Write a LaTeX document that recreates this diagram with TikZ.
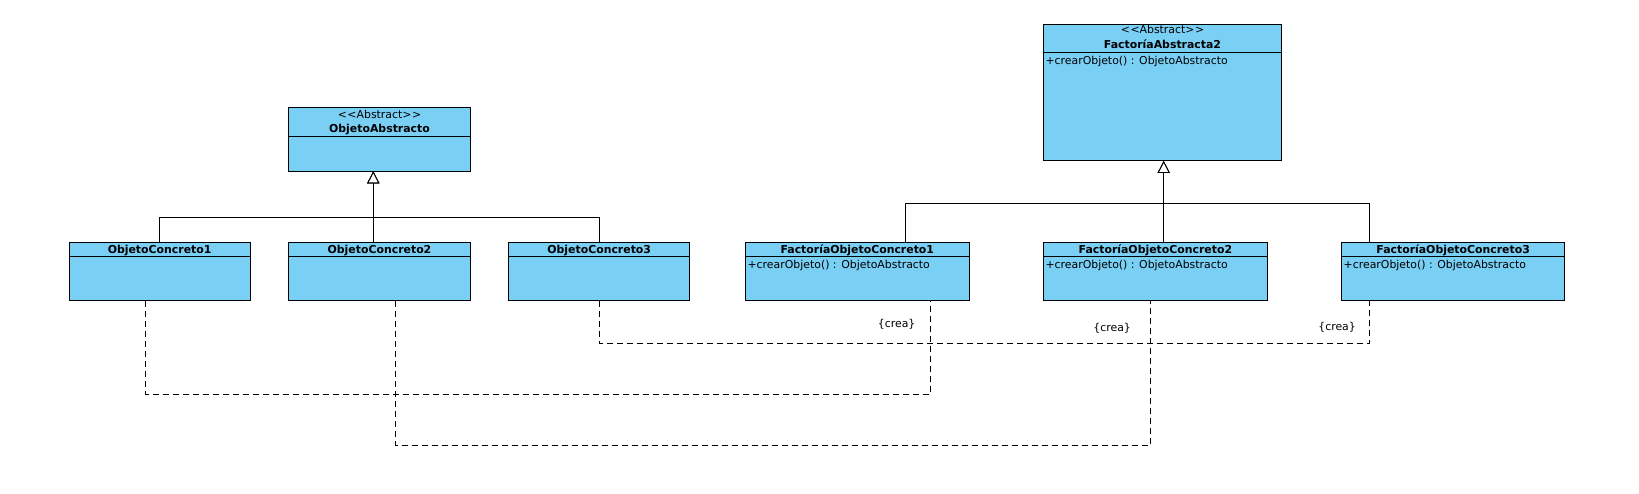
\documentclass[tikz,border=0pt]{standalone}
\usepackage{fontspec}
\setmainfont{DejaVu Sans}
\usetikzlibrary{arrows.meta}
\definecolor{umlblue}{HTML}{7ACFF5}
\tikzset{
  classbox/.style={draw=black, line width=1pt, fill=umlblue, anchor=north west, inner sep=0pt, outer sep=0pt},
  stereo/.style={font=\fontsize{10.9}{12}\selectfont, inner sep=0pt, anchor=base},
  ctitle/.style={font=\fontsize{10.9}{12}\selectfont\bfseries, inner sep=0pt, anchor=base},
  cattr/.style={font=\fontsize{10.9}{12}\selectfont, inner sep=0pt, anchor=base west},
  crealabel/.style={font=\fontsize{10.9}{12}\selectfont, inner sep=0pt, anchor=base east},
  gen/.style={line width=0.9pt, -{Triangle[open, length=12pt, width=12pt, fill=white]}},
  dep/.style={line width=0.9pt, dash pattern=on 6pt off 4pt},
}
\newcommand\UmlBox[6]{%
  \node[classbox, minimum width=#4pt, minimum height=#5pt] (#1) at (#2,#3) {};
  \draw[line width=1pt] ([yshift=-#6pt]#1.north west) -- ([yshift=-#6pt]#1.north east);
}
\begin{document}
\begin{tikzpicture}[x=1pt, y=-1pt]
\useasboundingbox (0,0) rectangle (1639,494);

% abstract classes
\UmlBox{oa}{288.5}{107.5}{182}{63.8}{29.3}
\node[stereo] (oas) at ([yshift=-10.8pt]oa.north) {<\kern0.6pt<Abstract>\kern0.6pt>};
\node[ctitle] (oat) at ([yshift=-25.2pt]oa.north) {ObjetoAbstracto};

\UmlBox{fa}{1043.3}{24.3}{238.4}{136.7}{28.4}
\node[stereo] (fas) at ([yshift=-9.7pt]fa.north) {<\kern0.6pt<Abstract>\kern0.6pt>};
\node[ctitle] (fat) at ([yshift=-24.4pt]fa.north) {FactoríaAbstracta2};
\node[cattr] (faa) at ([xshift=2pt, yshift=-39.8pt]fa.north west) {+crearObjeto() : ObjetoAbstracto};

% concrete classes
\UmlBox{oc1}{69}{242.3}{181.2}{58.7}{14}
\node[ctitle] (oc1t) at ([yshift=-10.9pt]oc1.north) {ObjetoConcreto1};
\UmlBox{oc2}{288.5}{242.3}{182}{58.7}{14}
\node[ctitle] (oc2t) at ([yshift=-10.9pt]oc2.north) {ObjetoConcreto2};
\UmlBox{oc3}{508.6}{242.3}{181.2}{58.7}{14}
\node[ctitle] (oc3t) at ([yshift=-10.9pt]oc3.north) {ObjetoConcreto3};

\UmlBox{foc1}{745.4}{242.3}{223.8}{58.7}{14}
\node[ctitle] (foc1t) at ([yshift=-10.9pt]foc1.north) {FactoríaObjetoConcreto1};
\node[cattr] (foc1a) at ([xshift=2pt, yshift=-26.2pt]foc1.north west) {+crearObjeto() : ObjetoAbstracto};
\UmlBox{foc2}{1043.3}{242.3}{224.2}{58.7}{14}
\node[ctitle] (foc2t) at ([yshift=-10.9pt]foc2.north) {FactoríaObjetoConcreto2};
\node[cattr] (foc2a) at ([xshift=2pt, yshift=-26.2pt]foc2.north west) {+crearObjeto() : ObjetoAbstracto};
\UmlBox{foc3}{1341.5}{242.3}{223.3}{58.7}{14}
\node[ctitle] (foc3t) at ([yshift=-10.9pt]foc3.north) {FactoríaObjetoConcreto3};
\node[cattr] (foc3a) at ([xshift=2pt, yshift=-26.2pt]foc3.north west) {+crearObjeto() : ObjetoAbstracto};

% generalizations (left)
\draw[gen] (oc1.north) |- ([xshift=-6.2pt, yshift=-46pt]oa.south) -- ([xshift=-6.2pt]oa.south);
\draw[gen] ([xshift=-6.2pt]oc2.north) -- ([xshift=-6.2pt]oa.south);
\draw[gen] (oc3.north) |- ([xshift=-6.2pt, yshift=-46pt]oa.south) -- ([xshift=-6.2pt]oa.south);

% generalizations (right)
\draw[gen] ([xshift=160pt]foc1.north west) |- ([xshift=120.4pt, yshift=-42.3pt]fa.south west) -- ([xshift=120.4pt]fa.south west);
\draw[gen] ([xshift=120.4pt]foc2.north west) -- ([xshift=120.4pt]fa.south west);
\draw[gen] ([xshift=28.4pt]foc3.north west) |- ([xshift=120.4pt, yshift=-42.3pt]fa.south west) -- ([xshift=120.4pt]fa.south west);

% dependencies {crea}
\draw[dep] (oc3.south) -- ++(0,42.3) -| ([xshift=28.4pt]foc3.south west);
\draw[dep] ([xshift=76.7pt]oc1.south west) -- ++(0,93) -| ([xshift=185.3pt]foc1.south west);
\draw[dep] ([xshift=107pt]oc2.south west) -- ++(0,144) -| ([xshift=107.2pt]foc2.south west);

\node[crealabel] (crea1) at (915.6,327.7) {\{crea\}};
\node[crealabel] (crea2) at (1131.1,332) {\{crea\}};
\node[crealabel] (crea3) at (1356,330.7) {\{crea\}};
\end{tikzpicture}
\end{document}
